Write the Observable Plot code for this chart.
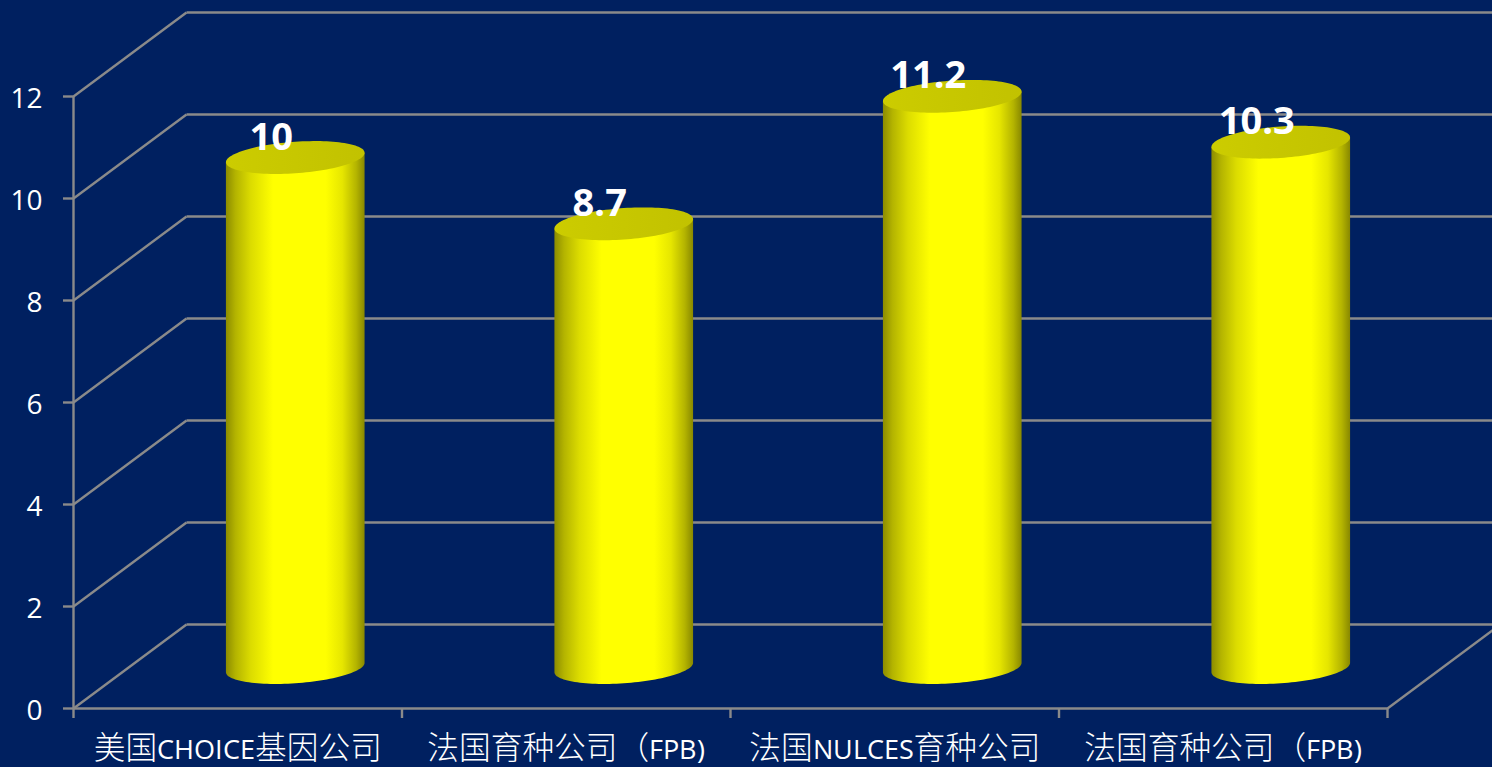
<!DOCTYPE html>
<html>
<head>
<meta charset="utf-8">
<script src="https://cdn.jsdelivr.net/npm/d3@7"></script>
<script src="https://cdn.jsdelivr.net/npm/@observablehq/plot@0.6"></script>
<style>
@font-face { font-family: "LatinNarrow"; src: local("Open Sans"); unicode-range: U+0020-007F; size-adjust: 86%; }
html, body { margin: 0; padding: 0; background: #002060; overflow: hidden; }
svg { display: block; }
</style>
</head>
<body>
<div id="chart"></div>
<script>
const categories = ["美国CHOICE基因公司", "法国育种公司（FPB)", "法国NULCES育种公司", "法国育种公司（FPB)"];
const values = [10, 8.7, 11.2, 10.3];
const yTicks = [0, 2, 4, 6, 8, 10, 12];
const xEdges = [0, 1, 2, 3, 4];

const W = 1492, H = 767;
const m = {left: 73, right: 105, top: 96, bottom: 59};
// data units per pixel, to express the fake 3-D depth through the scales
const ux = 4 / (W - m.left - m.right);
const uy = 12 / (H - m.top - m.bottom);
const depthX = 113 * ux, depthY = 84 * uy;
const midX = 57.5 * ux, midY = 41 * uy;

const a = 69.5, b = 15.7, tilt = 4.1 * Math.PI / 180;
const t0 = Math.atan((b * Math.tan(tilt)) / a);
const N = 60;
const ePoint = (t) => ({
  px: a * Math.cos(t) * Math.cos(tilt) + b * Math.sin(t) * Math.sin(tilt),
  py: -a * Math.cos(t) * Math.sin(tilt) + b * Math.sin(t) * Math.cos(tilt)
});
const lower = d3.range(N + 1).map((k) => ePoint(t0 + (Math.PI * k) / N));
const full = d3.range(2 * N).map((k) => ePoint(t0 + (Math.PI * k) / N));

const place = (i, v, p) => ({
  z: i,
  x: i + 0.5 + midX + p.px * ux,
  y: v + midY - p.py * uy
});
// body outline: lower half of the base ellipse, then up to the chord of the top ellipse
const bodies = values.flatMap((v, i) => [
  ...lower.map((p) => place(i, 0, p)),
  place(i, v, lower[N]),
  place(i, v, lower[0])
]);
const tops = values.flatMap((v, i) => full.map((p) => place(i, v, p)));

const grid = "#8a8a8a";
const sw = 2.4;
const defs = () => {
  const ns = "http://www.w3.org/2000/svg";
  const d = document.createElementNS(ns, "defs");
  d.innerHTML = `
    <linearGradient id="cyl" x1="0" x2="1" y1="0" y2="0">
      <stop offset="0" stop-color="#8c8c00"/>
      <stop offset="0.07" stop-color="#b4b400"/>
      <stop offset="0.18" stop-color="#dcdc00"/>
      <stop offset="0.34" stop-color="#ffff00"/>
      <stop offset="0.72" stop-color="#ffff00"/>
      <stop offset="0.84" stop-color="#e6e600"/>
      <stop offset="0.94" stop-color="#b4b400"/>
      <stop offset="1" stop-color="#888800"/>
    </linearGradient>
    <linearGradient id="cylTop" x1="0" x2="1" y1="0" y2="0">
      <stop offset="0" stop-color="#cccc00"/>
      <stop offset="1" stop-color="#c2c200"/>
    </linearGradient>`;
  return d;
};

const plot = Plot.plot({
  width: W,
  height: H,
  marginLeft: m.left,
  marginRight: m.right,
  marginTop: m.top,
  marginBottom: m.bottom,
  style: {background: "#002060", overflow: "hidden"},
  x: {type: "linear", domain: [0, 4], axis: null},
  y: {domain: [0, 12], axis: null},
  marks: [
    defs,
    // back wall gridlines
    Plot.link(yTicks, {
      x1: () => depthX, x2: () => 4 + depthX,
      y1: (d) => d + depthY, y2: (d) => d + depthY,
      stroke: grid, strokeWidth: sw
    }),
    // side wall diagonals
    Plot.link(yTicks, {
      x1: () => 0, x2: () => depthX,
      y1: (d) => d, y2: (d) => d + depthY,
      stroke: grid, strokeWidth: sw
    }),
    // floor right edge
    Plot.link([0], {
      x1: () => 4, x2: () => 4 + depthX,
      y1: () => 0, y2: () => depthY,
      stroke: grid, strokeWidth: sw
    }),
    // front axis lines
    Plot.ruleX([0], {y1: 0, y2: 12, stroke: grid, strokeWidth: sw}),
    Plot.ruleY([0], {x1: 0, x2: 4, stroke: grid, strokeWidth: sw}),
    Plot.axisY({
      ticks: yTicks, tickSize: 10, stroke: grid, strokeWidth: sw,
      tickFormat: () => "", label: null
    }),
    Plot.axisY({
      ticks: yTicks, tickSize: 0, tickPadding: 31, dy: 2.5,
      fill: "#fff", fontSize: 28, fontFamily: "'Open Sans'", label: null,
      textStroke: "none"
    }),
    Plot.axisX({
      ticks: xEdges, tickSize: 10, stroke: grid, strokeWidth: sw,
      tickFormat: () => "", label: null
    }),
    Plot.axisX({
      ticks: categories.map((c, i) => i + 0.5),
      tickSize: 0, tickPadding: 28,
      tickFormat: (d) => categories[Math.floor(d)],
      fill: "#fff", fontSize: 31.7, fontWeight: 300,
      fontFamily: "LatinNarrow, 'Noto Sans CJK SC'", label: null
    }),
    // cylinders
    Plot.line(bodies, {x: "x", y: "y", z: "z", fill: "url(#cyl)", stroke: "none", curve: "linear"}),
    Plot.line(tops, {x: "x", y: "y", z: "z", fill: "url(#cylTop)", stroke: "none", curve: "linear"}),
    // value labels
    Plot.text(values, {
      x: (d, i) => i + 0.5 + midX,
      y: (d) => d,
      text: (d) => String(d),
      dx: -24, dy: -61,
      fill: "#fff", fontSize: 38, fontWeight: 700, fontFamily: "'Open Sans'"
    })
  ]
});
document.getElementById("chart").append(plot);
</script>
</body>
</html>
